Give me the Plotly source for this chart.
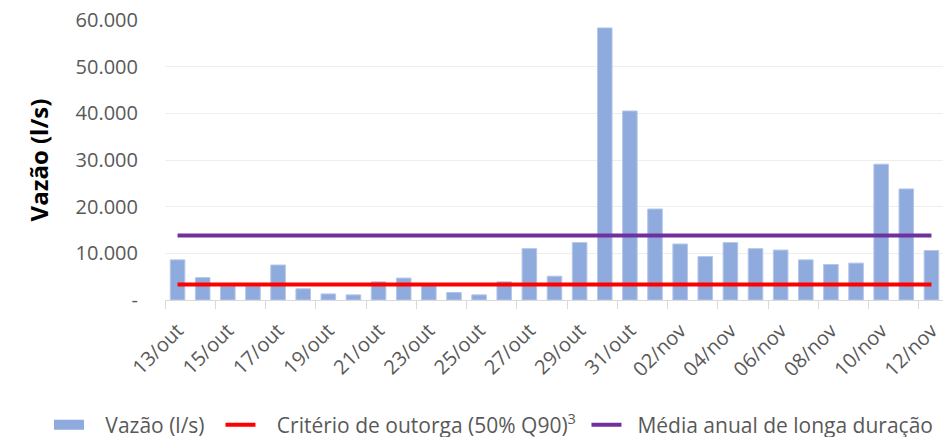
import plotly.graph_objects as go

categorias = ["13/out", "14/out", "15/out", "16/out", "17/out", "18/out", "19/out", "20/out",
              "21/out", "22/out", "23/out", "24/out", "25/out", "26/out", "27/out", "28/out",
              "29/out", "30/out", "31/out", "01/nov", "02/nov", "03/nov", "04/nov", "05/nov",
              "06/nov", "07/nov", "08/nov", "09/nov", "10/nov", "11/nov", "12/nov"]
vazao = [8600, 4800, 3000, 3000, 7500, 2400, 1300, 1100,
         3900, 4700, 3200, 1600, 1100, 3900, 11000, 5100,
         12300, 58300, 40500, 19500, 12000, 9300, 12300, 11000,
         10700, 8600, 7600, 7900, 29100, 23800, 10600]
criterio_outorga = [3300] * len(categorias)
media_longa_duracao = [13800] * len(categorias)

y_ticks = [0, 10000, 20000, 30000, 40000, 50000, 60000]
y_ticktext = ["-", "10.000", "20.000", "30.000", "40.000", "50.000", "60.000"]

font_family = "Open Sans, Liberation Sans, sans-serif"
txt_color = "#595959"
bar_color = "#8faadc"
NB = "\u00a0"

fig = go.Figure()
fig.add_trace(go.Bar(x=categorias, y=vazao, name="Vazão (l/s)", showlegend=False,
                     marker=dict(color=bar_color, line=dict(color="#b4c7e7", width=1))))
# legend stand-in for the bar series (wide rectangle symbol)
fig.add_trace(go.Scatter(x=[None], y=[None], mode="lines",
                         name=NB * 3 + "Vazão (l/s)" + NB * 2,
                         line=dict(color=bar_color, width=15)))
fig.add_trace(go.Scatter(x=categorias, y=criterio_outorga, mode="lines",
                         name=NB * 3 + "Critério de outorga (50% Q90)<sup>3</sup>" + NB,
                         line=dict(color="#ff0000", width=4)))
fig.add_trace(go.Scatter(x=categorias, y=media_longa_duracao, mode="lines",
                         name=NB * 2 + "Média anual de longa duração",
                         line=dict(color="#7030a0", width=4)))

# the page adds an 8px body margin, so the figure is offset by (8, 8) in the window
L, T, R, B = 157, 12, 15, 145
W, H = 951, 437
pw, ph = W - L - R, H - T - B
fig.update_layout(
    width=W, height=H,
    margin=dict(l=L, r=R, t=T, b=B, autoexpand=False),
    paper_bgcolor="white", plot_bgcolor="white",
    font=dict(family=font_family, color=txt_color, size=20),
    bargap=0.42,
    showlegend=True,
    legend=dict(orientation="h", xref="paper", yref="paper",
                x=(41 - L) / pw, xanchor="left",
                y=-(417 - (T + ph)) / ph, yanchor="middle",
                font=dict(size=21, color=txt_color), itemwidth=30,
                traceorder="normal", tracegroupgap=0),
)
fig.update_xaxes(
    type="category", automargin=False,
    tickmode="array", tickvals=categorias[::2], ticktext=categorias[::2],
    tickangle=-45, tickson="boundaries",
    ticks="outside", ticklen=8, tickcolor="#d9d9d9",
    ticklabelstandoff=10,
    showline=True, linecolor="#d9d9d9", linewidth=1,
    showgrid=False, range=[-0.5, len(categorias) - 0.5],
    tickfont=dict(size=20, color=txt_color),
)
fig.update_yaxes(
    automargin=False, ticklabeloverflow="allow",
    range=[0, 60000], tickmode="array", tickvals=y_ticks, ticktext=y_ticktext,
    showgrid=True, gridcolor="#eeeeee", gridwidth=1, zeroline=False,
    ticks="", ticklabelstandoff=26, tickfont=dict(size=20, color=txt_color),
    title=dict(text="<b>Vazão (l/s)</b>", font=dict(size=24, color="black"), standoff=20),
)

fig.write_html("out.html")
